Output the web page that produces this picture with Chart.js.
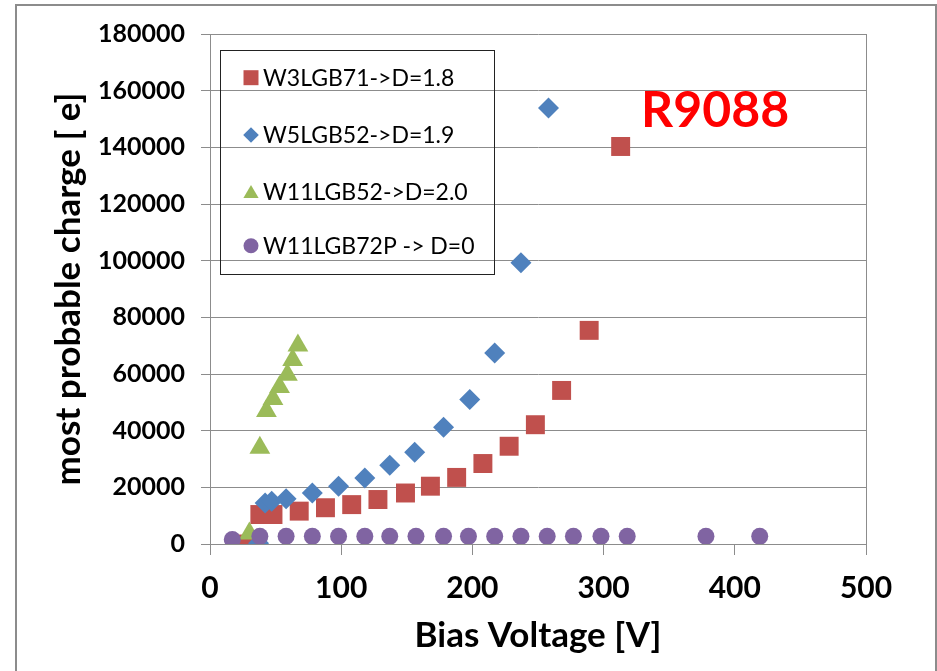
<!DOCTYPE html>
<html lang="en">
<head>
  <meta charset="UTF-8" />
  <title>Most probable charge vs bias voltage</title>
  <script src="https://cdn.jsdelivr.net/npm/chart.js"></script>
  <style>
    body { margin: 0; background: #fff; }
    #wrap { position: relative; width: 937px; height: 671px; overflow: hidden; }
    #frame {
      position: absolute; left: 15px; top: 4px; width: 918px; height: 720px;
      border: 2px solid #8c8c8c; pointer-events: none;
    }
    canvas { position: absolute; left: 0; top: 0; }
  </style>
</head>
<body>
  <div id="wrap">
    <canvas id="chart" width="937" height="671"></canvas>
    <div id="frame"></div>
  </div>

  <script>
    // bias voltage [V] and most probable charge [e] per sample
    const w3Volt   = [28, 38, 48, 68, 88, 108, 128, 149, 168, 188, 208, 228, 248, 268, 289, 313];
    const w3Charge = [0, 10400, 10400, 11600, 12800, 13900, 15700, 18000, 20400, 23500, 28400, 34500, 42100, 54200, 75400, 140300];

    const w5Volt   = [37, 42, 47, 58, 78, 98, 118, 137, 156, 178, 198, 217, 237, 258];
    const w5Charge = [300, 14500, 15100, 16000, 18000, 20400, 23300, 27800, 32400, 41200, 51000, 67400, 99300, 153900];

    const w11Volt   = [30, 38, 43, 48, 53, 59, 63, 67];
    const w11Charge = [3700, 34000, 46900, 51200, 55400, 59700, 64900, 70100];

    const w11pVolt   = [17, 38, 58, 78, 98, 118, 137, 157, 178, 197, 217, 237, 257, 277, 298, 318, 378, 419];
    const w11pCharge = [1600, 2700, 2700, 2700, 2700, 2700, 2700, 2700, 2700, 2700, 2700, 2700, 2700, 2700, 2700, 2700, 2700, 2700];

    const seriesNames = ['W3LGB71->D=1.8', 'W5LGB52->D=1.9', 'W11LGB52->D=2.0', 'W11LGB72P -> D=0'];
    const xTicks = [0, 100, 200, 300, 400, 500];
    const yTicks = [0, 20000, 40000, 60000, 80000, 100000, 120000, 140000, 160000, 180000];

    const toPoints = (xs, ys) => xs.map((x, i) => ({ x: x, y: ys[i] }));

    const gridGray = '#8c8c8c';
    const fontFamily = 'Lato, "DejaVu Sans", sans-serif';

    // legend box drawn inside the plot, plus the run label
    const boxLegend = {
      id: 'boxLegend',
      afterDraw(chart) {
        const ctx = chart.ctx;
        ctx.save();
        ctx.strokeStyle = '#222';
        ctx.lineWidth = 1;
        ctx.strokeRect(220.5, 50.5, 274, 224);

        const rows = [77.7, 135, 191.7, 245.7];
        const sizes = { rect: 10.6, rectRot: 7.8, triangle: 8.8, circle: 7.5 };
        ctx.font = '23px ' + fontFamily;
        ctx.textBaseline = 'middle';
        ctx.textAlign = 'left';
        chart.data.datasets.forEach((ds, i) => {
          ctx.fillStyle = ds.backgroundColor;
          Chart.helpers.drawPoint(ctx, {
            pointStyle: ds.pointStyle,
            radius: sizes[ds.pointStyle],
            rotation: 0,
            borderWidth: 0
          }, 251, rows[i] + (ds.pointStyle === 'triangle' ? 2 : 0));
          ctx.fillStyle = '#000';
          ctx.fillText(ds.label, 263, rows[i] + 1);
        });

        ctx.fillStyle = '#ff0000';
        ctx.font = 'bold 50px ' + fontFamily;
        ctx.textBaseline = 'alphabetic';
        ctx.fillText('R9088', 641, 127);
        ctx.restore();
      }
    };

    const ctx = document.getElementById('chart').getContext('2d');
    new Chart(ctx, {
      type: 'scatter',
      data: {
        datasets: [
          { label: seriesNames[0], data: toPoints(w3Volt, w3Charge), pointStyle: 'rect',
            pointRadius: 13.4, backgroundColor: '#c0504d', borderWidth: 0, order: 4 },
          { label: seriesNames[1], data: toPoints(w5Volt, w5Charge), pointStyle: 'rectRot',
            pointRadius: 10.5, backgroundColor: '#4f81bd', borderWidth: 0, order: 3 },
          { label: seriesNames[2], data: toPoints(w11Volt, w11Charge), pointStyle: 'triangle',
            pointRadius: 12, backgroundColor: '#9bbb59', borderWidth: 0, order: 2 },
          { label: seriesNames[3], data: toPoints(w11pVolt, w11pCharge), pointStyle: 'circle',
            pointRadius: 8.5, backgroundColor: '#8064a2', borderWidth: 0, order: 1 }
        ]
      },
      options: {
        responsive: false,
        animation: false,
        layout: { padding: { left: 44, top: 34, right: 71, bottom: 10 } },
        plugins: { legend: { display: false }, tooltip: { enabled: false } },
        scales: {
          x: {
            type: 'linear', min: 0, max: 500,
            afterFit: (scale) => { scale.height = 117; },
            afterBuildTicks: (scale) => { scale.ticks = xTicks.map(v => ({ value: v })); },
            ticks: { color: '#000', padding: 15, font: { family: fontFamily, size: 30, weight: 'bold' } },
            grid: {
              color: (c) => (c.tick && c.tick.value === 500 ? gridGray : 'rgba(0,0,0,0)'),
              tickColor: gridGray, tickLength: 11, lineWidth: 1
            },
            border: { display: true, color: gridGray, width: 1 },
            title: {
              display: true, text: 'Bias Voltage [V]', color: '#000',
              font: { family: fontFamily, size: 35, weight: 'bold' }
            }
          },
          y: {
            type: 'linear', min: 0, max: 180000,
            afterFit: (scale) => { scale.width = 166; },
            afterBuildTicks: (scale) => { scale.ticks = yTicks.map(v => ({ value: v })); },
            ticks: {
              color: '#000', padding: 16,
              font: { family: fontFamily, size: 25, weight: 'bold' },
              callback: (v) => String(v)
            },
            grid: { color: gridGray, tickColor: gridGray, tickLength: 9, lineWidth: 1 },
            border: { display: true, color: gridGray, width: 1 },
            title: {
              display: true, text: 'most probable charge [ e]', color: '#000',
              font: { family: fontFamily, size: 35, weight: 'bold' }
            }
          }
        }
      },
      plugins: [boxLegend]
    });
  </script>
</body>
</html>
